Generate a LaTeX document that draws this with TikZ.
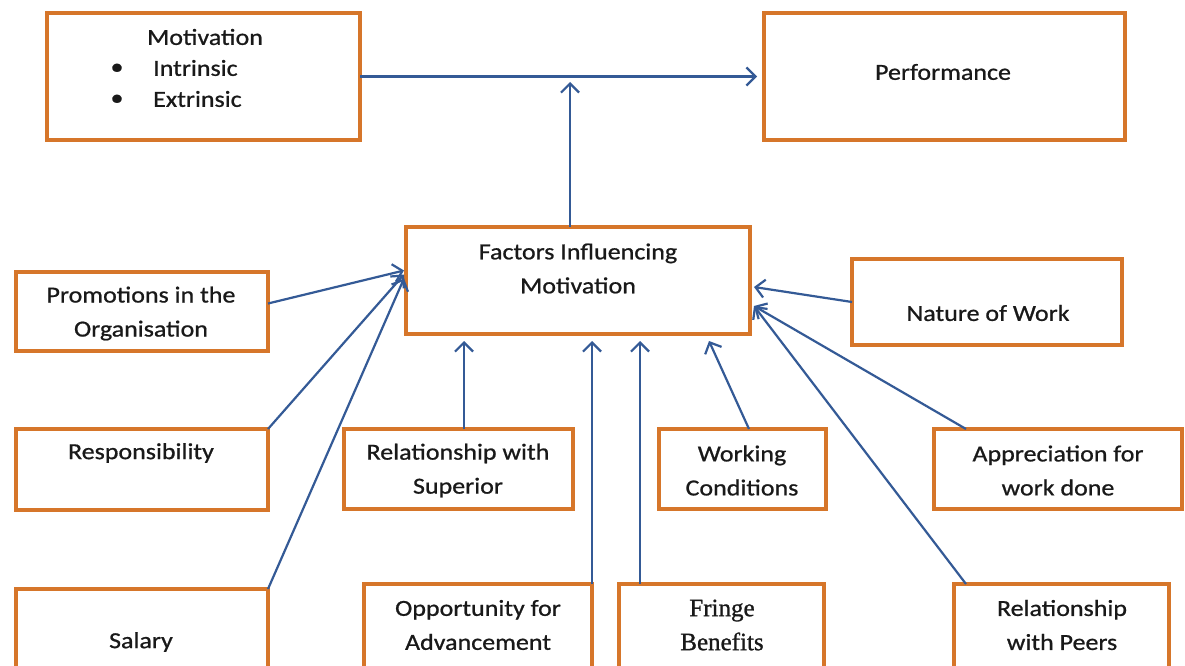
\documentclass[tikz,border=0pt]{standalone}
\usepackage{fontspec}
\setmainfont{Carlito}[FakeStretch=1.13,FakeBold=0.8]
\newfontfamily\serifbox{Liberation Serif}[FakeBold=1]
\usetikzlibrary{arrows.meta,calc}
\definecolor{boxorange}{RGB}{214,118,42}
\definecolor{arrowblue}{RGB}{52,90,150}
\tikzset{
  box/.style={draw=boxorange,line width=4pt,rectangle,inner sep=0pt,outer sep=0pt},
  lbl/.style={inner sep=0pt,align=center,font=\fontsize{23}{34}\selectfont,text=black!90},
  arr/.style={draw=arrowblue,line width=2.2pt,-{Straight Barb[length=9pt,width=18pt,line width=2.2pt]}},
  ln/.style={draw=arrowblue,line width=2.2pt}
}
\begin{document}
\begin{tikzpicture}[x=1pt,y=-1pt]
\useasboundingbox (0,0) rectangle (1185,666);
\clip (0,0) rectangle (1185,666);
\fill[white] (0,0) rectangle (1185,666);
% boxes (line centres)
\node[box,minimum width=313,minimum height=127] (mot) at (203.5,76.5) {};
\node[box,minimum width=361,minimum height=127] (perf) at (944.5,76.5) {};
\node[box,minimum width=344,minimum height=107] (fac) at (578,280.5) {};
\node[box,minimum width=252,minimum height=79] (prom) at (142,311.5) {};
\node[box,minimum width=270,minimum height=86] (nat) at (987,302) {};
\node[box,minimum width=252,minimum height=81] (resp) at (142,469.5) {};
\node[box,minimum width=229,minimum height=80] (rsup) at (458.5,469) {};
\node[box,minimum width=167,minimum height=80] (work) at (742.5,469) {};
\node[box,minimum width=248,minimum height=80] (appr) at (1058,469) {};
\node[box,minimum width=252,minimum height=84] (sal) at (142,631) {};
\node[box,minimum width=228,minimum height=88] (opp) at (478,628) {};
\node[box,minimum width=205,minimum height=88] (fringe) at (721.5,628) {};
\node[box,minimum width=215,minimum height=88] (peers) at (1061.5,628) {};
% texts
\node[lbl] (tmot) at (205,37) {Motivation};
\node[lbl] (b1) at (117,69) {•};
\node[lbl] (b2) at (117,100) {•};
\node[lbl,anchor=west] (tin) at (153,68) {Intrinsic};
\node[lbl,anchor=west] (tex) at (153,99) {Extrinsic};
\node[lbl] (tperf) at (943,72) {Performance};
\node[lbl] (tfac) at (578,268.5) {Factors Influencing\\Motivation};
\node[lbl] (tprom) at (141,313.5) {Promotions in the\\Organisation};
\node[lbl] (tnat) at (988,313) {Nature of Work};
\node[lbl] (tresp) at (141,453) {Responsibility};
\node[lbl] (trsup) at (458,470.5) {Relationship with\\Superior};
\node[lbl] (twork) at (742,470.5) {Working\\Conditions};
\node[lbl] (tappr) at (1058,470.5) {Appreciation for\\work done};
\node[lbl] (tsal) at (141,642) {Salary};
\node[lbl] (topp) at (478,625) {Opportunity for\\Advancement};
\node[lbl,font=\serifbox\fontsize{25}{34}\selectfont] (tfringe) at (722,625) {Fringe\\Benefits};
\node[lbl] (tpeers) at (1062,625) {Relationship\\with Peers};
% connectors
\coordinate (mp) at ($(fac.north)+(-8,0)$);
\draw[arr] (mot.east) -- ($(perf.west)+(-7,0)$);
\draw[arr] (mp) -- (mp |- {(0,82)});
\draw[arr] ($(prom.east)+(0,-8)$) -- ($(fac.west)+(-2,-10)$);
\draw[arr] (resp.north east) -- ($(fac.west)+(-2,-6)$);
\draw[arr] (sal.north east) -- ($(fac.west)+(-2,-2)$);
\draw[arr] ($(rsup.north)+(5.5,0)$) -- ($(rsup.north |- fac.south)+(5.5,7)$);
\draw[arr] (opp.north east) -- ($(opp.north east |- fac.south)+(0,7)$);
\draw[arr] ($(fringe.north west)+(21,0)$) -- ($(fringe.north west |- fac.south)+(21,7)$);
\draw[arr] ($(work.north)+(6.5,0)$) -- ($(fac.south east)+(-41,7)$);
\draw[arr] (nat.west) -- ($(fac.east)+(4,6.5)$);
\draw[arr] ($(appr.north west)+(32,0)$) -- ($(fac.east)+(4,25.5)$);
\draw[arr] ($(peers.north west)+(12,0)$) -- ($(fac.east)+(4,25.5)$);
\end{tikzpicture}
\end{document}
